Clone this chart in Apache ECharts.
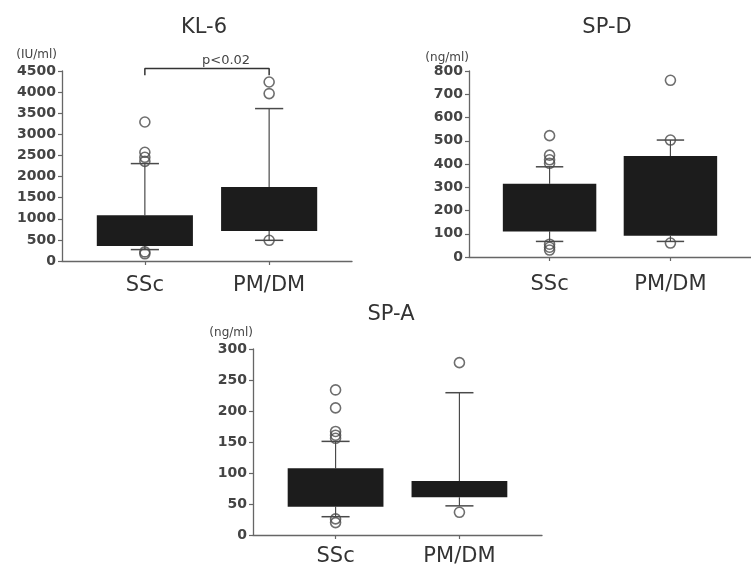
<!DOCTYPE html>
<html>
<head>
<meta charset="utf-8">
<script src="https://cdn.jsdelivr.net/npm/echarts@6/dist/echarts.min.js"></script>
<style>
  html, body { margin: 0; padding: 0; background: #ffffff; }
  #chart { width: 751px; height: 570px; }
</style>
</head>
<body>
<div id="chart"></div>
<script>
// Groups compared in every panel
const categories = ['SSc', 'PM/DM'];

// Box summaries per group: [lower whisker, Q1, Q3, upper whisker]
const kl6Box = [[270, 355, 1082, 2307], [490, 711, 1753, 3610]];
const spdBox = [[67, 110, 315, 388], [67, 91, 434, 503]];
const spaBox = [[29.5, 45.7, 107.6, 151], [47, 60.8, 87, 229.5]];

// Outlying values per group
const kl6Outliers = [[3292, 2575, 2456, 2360, 215, 170], [4240, 3965, 490]];
const spdOutliers = [[522, 438, 418, 403, 55, 42, 30], [760, 503, 60]];
const spaOutliers = [[234, 205, 167, 161, 156, 26, 20], [278, 36.6]];

// Value axes: [min, max, tick step]
const kl6Range = [0, 4500, 500];
const spdRange = [0, 800, 100];
const spaRange = [0, 300, 50];

// Significance bracket over the KL-6 panel: [bracket foot, bracket top]
const kl6Bracket = [4400, 4560];
const kl6Pvalue = 'p<0.02';

const FONT = 'DejaVu Sans';
const AXIS_COLOR = '#666';
const MARK_COLOR = '#4a4a4a';

// Groups sit at 1 and 2.5 on a 0..3.5 base axis
const groupPos = i => 1 + 1.5 * i;
const positions = categories.map((_, i) => groupPos(i));

const panels = [
  {
    title: 'KL-6', unit: '(IU/ml)', box: kl6Box, outliers: kl6Outliers, range: kl6Range,
    grid: { left: 62, top: 71, width: 290, height: 190 },
    titleAt: [204, 17], unitGap: 16, unitPad: 5, catMargin: 14, valueFont: 14
  },
  {
    title: 'SP-D', unit: '(ng/ml)', box: spdBox, outliers: spdOutliers, range: spdRange,
    grid: { left: 469, top: 71, width: 290, height: 186 },
    titleAt: [607, 17], unitGap: 10, unitPad: 0, catMargin: 17, valueFont: 14
  },
  {
    title: 'SP-A', unit: '(ng/ml)', box: spaBox, outliers: spaOutliers, range: spaRange,
    grid: { left: 253, top: 349, width: 289, height: 186 },
    titleAt: [391, 304], unitGap: 16, unitPad: 0, catMargin: 11, valueFont: 14
  }
];

function renderBox(params, api) {
  const x = api.value(0);
  const half = 0.58;   // half box width, base-axis units
  const cap = 0.17;    // half whisker cap width, base-axis units
  const lo = api.coord([x, api.value(1)]);
  const q1 = api.coord([x, api.value(2)]);
  const q3 = api.coord([x, api.value(3)]);
  const hi = api.coord([x, api.value(4)]);
  const left = api.coord([x - half, 0])[0];
  const right = api.coord([x + half, 0])[0];
  const capL = api.coord([x - cap, 0])[0];
  const capR = api.coord([x + cap, 0])[0];
  const cx = lo[0];
  const stem = { stroke: MARK_COLOR, lineWidth: 1.2 };
  const capStyle = { stroke: MARK_COLOR, lineWidth: 1.5 };
  return {
    type: 'group',
    children: [
      { type: 'line', shape: { x1: cx, y1: hi[1], x2: cx, y2: q3[1] }, style: stem },
      { type: 'line', shape: { x1: capL, y1: hi[1], x2: capR, y2: hi[1] }, style: capStyle },
      { type: 'line', shape: { x1: cx, y1: q1[1], x2: cx, y2: lo[1] }, style: stem },
      { type: 'line', shape: { x1: capL, y1: lo[1], x2: capR, y2: lo[1] }, style: capStyle },
      {
        type: 'rect',
        shape: { x: left, y: q3[1], width: right - left, height: q1[1] - q3[1] },
        style: { fill: '#1c1c1c' }
      }
    ]
  };
}

const option = {
  backgroundColor: '#ffffff',
  animation: false,
  title: panels.map(p => ({
    text: p.title,
    left: p.titleAt[0],
    top: p.titleAt[1],
    textAlign: 'center',
    padding: 0,
    textStyle: { fontFamily: FONT, fontSize: 21, fontWeight: 'normal', color: '#333' }
  })),
  grid: panels.map(p => Object.assign({ containLabel: false }, p.grid)),
  xAxis: panels.map((p, k) => ({
    gridIndex: k,
    type: 'value',
    min: 0,
    max: 3.5,
    splitLine: { show: false },
    axisLine: { show: true, onZero: false, lineStyle: { color: AXIS_COLOR, width: 1.3 } },
    axisTick: { show: true, customValues: positions, length: 4, inside: false,
                lineStyle: { color: AXIS_COLOR, width: 1.2 } },
    axisLabel: {
      customValues: positions,
      formatter: v => categories[Math.round((v - 1) / 1.5)],
      margin: p.catMargin,
      fontFamily: FONT, fontSize: 21, color: '#333'
    }
  })),
  yAxis: panels.map((p, k) => ({
    gridIndex: k,
    type: 'value',
    min: p.range[0],
    max: p.range[1],
    interval: p.range[2],
    splitLine: { show: false },
    axisLine: { show: true, onZero: false, lineStyle: { color: AXIS_COLOR, width: 1.3 } },
    axisTick: { show: true, length: 4, inside: false, lineStyle: { color: AXIS_COLOR, width: 1.2 } },
    axisLabel: {
      margin: 6,
      padding: [6, 0, 0, 0],
      formatter: v => String(v),
      fontFamily: FONT, fontSize: p.valueFont, fontWeight: 'bold', color: '#444'
    },
    name: p.unit,
    nameLocation: 'end',
    nameGap: p.unitGap,
    nameTextStyle: {
      align: 'right', verticalAlign: 'middle',
      padding: [0, p.unitPad, 0, 0],
      fontFamily: FONT, fontSize: 12, color: '#444'
    }
  })),
  series: [].concat(
    panels.map((p, k) => ({
      type: 'custom',
      xAxisIndex: k,
      yAxisIndex: k,
      renderItem: renderBox,
      encode: { x: 0, y: [1, 2, 3, 4] },
      data: p.box.map((b, i) => [groupPos(i)].concat(b)),
      z: 2
    })),
    panels.map((p, k) => ({
      type: 'scatter',
      xAxisIndex: k,
      yAxisIndex: k,
      symbol: 'circle',
      symbolSize: 10,
      itemStyle: { color: 'rgba(0,0,0,0)', borderColor: MARK_COLOR, borderWidth: 1.6 },
      data: p.outliers.flatMap((vals, i) => vals.map(v => [groupPos(i), v])),
      z: 3
    })),
    [{
      type: 'line',
      xAxisIndex: 0,
      yAxisIndex: 0,
      clip: false,
      symbol: 'none',
      lineStyle: { color: '#333', width: 1.5 },
      data: [
        [groupPos(0), kl6Bracket[0]],
        [groupPos(0), kl6Bracket[1]],
        [groupPos(1), kl6Bracket[1]],
        [groupPos(1), kl6Bracket[0]]
      ],
      z: 4
    }]
  ),
  graphic: [{
    type: 'text',
    left: 202,
    top: 54,
    style: {
      text: kl6Pvalue,
      x: 0, y: 0,
      textAlign: 'center',
      textVerticalAlign: 'middle',
      font: '13px "DejaVu Sans"',
      fill: '#444'
    }
  }]
};

const chart = echarts.init(document.getElementById('chart'), null, { renderer: 'canvas' });
chart.setOption(option);
</script>
</body>
</html>
